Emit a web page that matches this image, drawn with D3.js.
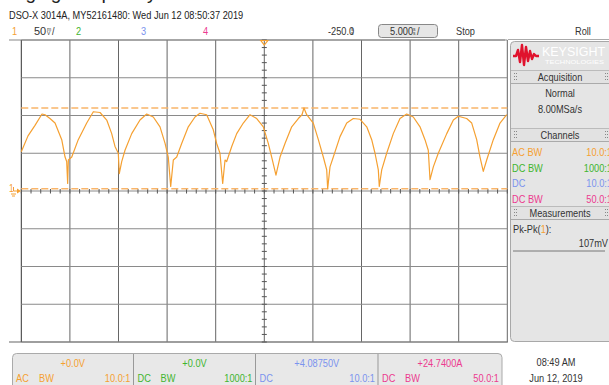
<!DOCTYPE html>
<html>
<head>
<meta charset="utf-8">
<script src="https://cdn.jsdelivr.net/npm/d3@7/dist/d3.min.js"></script>
<style>
  html, body { margin: 0; padding: 0; background: #fff; }
  svg { display: block; }
  text { font-family: "Liberation Sans", Arial, sans-serif; }
</style>
</head>
<body>
<svg id="scope" width="609" height="385"></svg>
<script>
// Channel 1 trace: time (s across the 10-div screen) and voltage (mV)
const traceTime = [0.0,0.69,1.41,2.13,2.44,2.95,3.47,4.16,4.50,4.67,4.77,4.84,5.19,5.86,6.73,7.41,8.10,8.79,9.30,9.64,9.98,10.08,10.33,10.67,11.36,12.21,12.90,13.58,14.27,14.79,15.12,15.37,15.64,15.99,16.50,17.18,17.87,18.38,19.07,19.75,20.10,20.44,20.72,20.96,21.13,21.65,22.16,22.84,23.53,24.22,24.90,25.41,25.76,26.20,26.62,27.13,27.82,28.50,28.88,29.08,29.36,30.04,30.56,31.07,31.42,31.52,31.76,32.10,32.79,33.48,34.16,34.85,35.54,36.05,36.39,36.73,36.83,37.08,37.59,38.27,38.96,39.65,40.33,41.02,41.53,41.87,42.05,42.39,42.90,43.77,44.45,44.96,45.82,46.34,46.85,47.19,47.53,47.88,48.56,49.25,49.94];
const traceMv = [52,73,87,102,101,96,90,68,45,39,10,41,45,68,90,105,104,94,76,59,50,23,39,54,76,94,102,98,85,63,45,6,41,45,63,85,98,103,101,81,63,50,10,41,39,59,76,90,101,96,85,63,45,21,45,63,85,96,101,110,101,90,68,45,28,3,32,45,72,90,96,95,85,68,50,28,6,28,50,76,96,102,98,85,68,54,15,32,50,76,94,99,96,90,68,45,26,41,68,90,101];

// Pk-Pk measurement markers (mV)
const markerMv = [110, 3];
const pkpkLabel = "107mV";

// Screen setup
const timeDomain = [0, 50];        // 10 div x 5 s/div
const voltDomain = [-200, 200];    // 8 div x 50 mV/div
const timeTicks = d3.range(0, 51, 5);
const voltTicks = d3.range(-200, 201, 50);
const timeMinor = d3.range(0, 50.01, 1);
const voltMinor = d3.range(-200, 200.01, 10);

// Channel info
const channelIds = ["1", "2", "3", "4"];
const channelColors = ["#f5a031", "#3fb52f", "#7b93ee", "#ec3a8f"];
const channelOffsets = ["+0.0V", "+0.0V", "+4.08750V", "+24.7400A"];
const channelCoupling = ["AC", "DC", "DC", "DC"];
const channelBw = ["BW", "BW", "", "BW"];
const channelProbe = ["10.0:1", "1000:1", "10.0:1", "50.0:1"];

const svg = d3.select("#scope");
const x = d3.scaleLinear().domain(timeDomain).range([21.3, 507.3]);
const y = d3.scaleLinear().domain(voltDomain).range([342, 40]);

// Condensed instrument-style label
function label(parent, lx, ly, str, opts = {}) {
  return parent.append("text")
    .attr("transform", `translate(${lx},${ly}) scale(${opts.sx ?? 0.84},1)`)
    .attr("text-anchor", opts.anchor || "start")
    .attr("font-size", opts.size || 11)
    .attr("fill", opts.color || "#333")
    .text(str);
}

// Partial title above the header
svg.append("text").attr("x", -3).attr("y", -1)
  .attr("font-size", 19).attr("fill", "#222")
  .text("Ringing Frequency");

// Header text
label(svg, 9, 19, "DSO-X 3014A, MY52161480: Wed Jun 12 08:50:37 2019", { color: "#222" });

const hdrY = 35;
label(svg, 12, hdrY, "1", { color: channelColors[0] });
label(svg, 34, hdrY, "50", { sx: 1 });
label(svg, 47, hdrY - 4.5, "m", { size: 5, sx: 1 });
label(svg, 47, hdrY, "V", { size: 5, sx: 1 });
label(svg, 52, hdrY, "/");
label(svg, 76, hdrY, "2", { color: channelColors[1] });
label(svg, 141, hdrY, "3", { color: channelColors[2] });
label(svg, 203, hdrY, "4", { color: channelColors[3] });

label(svg, 328, hdrY, "-250.0");
label(svg, 351, hdrY - 4.5, "s", { size: 5, sx: 1 });
label(svg, 351, hdrY, "s", { size: 5, sx: 1 });

svg.append("rect").attr("x", 378.5).attr("y", 24.5).attr("width", 59).attr("height", 13).attr("rx", 3)
  .attr("fill", "#e6e6e6").attr("stroke", "#888");
label(svg, 390, hdrY, "5.000");
label(svg, 413, hdrY - 4.5, "s", { size: 5, sx: 1 });
label(svg, 413, hdrY, "s", { size: 5, sx: 1 });
label(svg, 417, hdrY, "/");
label(svg, 456, hdrY, "Stop");
label(svg, 575, hdrY, "Roll");

// Header separators
svg.append("line").attr("x1", 9).attr("x2", 505).attr("y1", 40).attr("y2", 40).attr("stroke", "#888").attr("stroke-width", 1.2);
svg.append("line").attr("x1", 508).attr("x2", 609).attr("y1", 39.5).attr("y2", 39.5).attr("stroke", "#aaa");
svg.append("line").attr("x1", 9).attr("x2", 508).attr("y1", 342).attr("y2", 342).attr("stroke", "#666").attr("stroke-width", 1.2);

// Grid
const grid = svg.append("g");
grid.selectAll("line.v").data(timeTicks).join("line")
  .attr("x1", d => x(d)).attr("x2", d => x(d)).attr("y1", 40).attr("y2", 342)
  .attr("stroke", (d, i) => i === 0 ? "#333" : "#666").attr("stroke-width", 1);
grid.selectAll("line.h").data(voltTicks).join("line")
  .attr("x1", x(0)).attr("x2", x(50)).attr("y1", d => y(d)).attr("y2", d => y(d))
  .attr("stroke", "#8a8a8a").attr("stroke-width", 1.2);

// Center-axis minor ticks
grid.selectAll("line.mx").data(timeMinor).join("line")
  .attr("x1", d => x(d)).attr("x2", d => x(d)).attr("y1", y(0) - 2).attr("y2", y(0) + 2.5)
  .attr("stroke", "#555");
grid.selectAll("line.my").data(voltMinor).join("line")
  .attr("x1", x(25) - 2.5).attr("x2", x(25) + 2.5).attr("y1", d => y(d)).attr("y2", d => y(d))
  .attr("stroke", "#555");

// Measurement markers
svg.selectAll("line.mk").data(markerMv).join("line")
  .attr("x1", x(0)).attr("x2", x(50)).attr("y1", d => y(d)).attr("y2", d => y(d))
  .attr("stroke", "#f9b56a").attr("stroke-width", 1.4).attr("stroke-dasharray", "7,3");

// Trace
const pts = traceTime.map((t, i) => [t, traceMv[i]]);
svg.append("path").datum(pts)
  .attr("d", d3.line().x(d => x(d[0])).y(d => y(d[1])))
  .attr("fill", "none").attr("stroke", channelColors[0]).attr("stroke-width", 1.2)
  .attr("stroke-linejoin", "round");

// Trigger marker at top
svg.append("path").attr("d", `M${x(25) - 3.5},40.5 L${x(25) + 3.5},40.5 L${x(25)},45 Z`)
  .attr("fill", "none").attr("stroke", channelColors[0]).attr("stroke-width", 1.2);

// Ground marker for channel 1
label(svg, 9, y(0) + 1, "1", { size: 10, color: channelColors[0] });
svg.append("path").attr("d", `M13.5,${y(0) - 4} L13.5,${y(0)} L19,${y(0)}`)
  .attr("fill", "none").attr("stroke", channelColors[0]).attr("stroke-width", 1);
svg.append("path").attr("d", `M17,${y(0) - 2.5} L21,${y(0)} L17,${y(0) + 2.5} Z`).attr("fill", channelColors[0]);
svg.append("path").attr("d", `M11,${y(0) + 3} L16,${y(0) + 3} M12,${y(0) + 5} L15,${y(0) + 5}`)
  .attr("stroke", channelColors[0]).attr("stroke-width", 1);

// Right side panel
const panel = svg.append("g");
panel.append("rect").attr("x", 510.5).attr("y", 41.5).attr("width", 105).attr("height", 300).attr("rx", 4)
  .attr("fill", "#e5e5e5").attr("stroke", "#a8a8a8");
// Logo
panel.append("path")
  .attr("d", "M513,56 L516,56 L518,50 L520,62 L522,45 L524,65 L526,47 L528,61 L530,51 L532,59 L534,54 L536,56 L539,56")
  .attr("fill", "none").attr("stroke", "#e0122d").attr("stroke-width", 2.4).attr("stroke-linejoin", "round");
panel.append("text").attr("x", 542).attr("y", 56).attr("font-size", 12).attr("fill", "#fff")
  .attr("textLength", 63).attr("lengthAdjust", "spacingAndGlyphs").text("KEYSIGHT");
panel.append("text").attr("x", 545).attr("y", 64).attr("font-size", 6).attr("fill", "#fff")
  .attr("textLength", 59).attr("lengthAdjust", "spacingAndGlyphs").text("TECHNOLOGIES");

function sectionHeader(str, yTop) {
  panel.append("rect").attr("x", 511).attr("y", yTop).attr("width", 98).attr("height", 13).attr("fill", "#e2e2e2");
  panel.append("line").attr("x1", 511).attr("x2", 609).attr("y1", yTop + 0.5).attr("y2", yTop + 0.5).attr("stroke", "#bbb");
  panel.append("line").attr("x1", 511).attr("x2", 609).attr("y1", yTop + 13.5).attr("y2", yTop + 13.5).attr("stroke", "#aaa");
  label(panel, 560, yTop + 10.5, str, { anchor: "middle" });
  [514, 605].forEach(gx => {
    [3, 6, 9].forEach(gy => {
      panel.append("rect").attr("x", gx).attr("y", yTop + gy).attr("width", 1).attr("height", 1).attr("fill", "#888");
      panel.append("rect").attr("x", gx + 2).attr("y", yTop + gy).attr("width", 1).attr("height", 1).attr("fill", "#888");
    });
  });
}
sectionHeader("Acquisition", 70);
label(panel, 560, 97, "Normal", { anchor: "middle" });
label(panel, 560, 113, "8.00MSa/s", { anchor: "middle" });

sectionHeader("Channels", 128);
channelIds.forEach((id, i) => {
  const ry = 156 + i * 15.5;
  label(panel, 512, ry, channelCoupling[i] + (channelBw[i] ? " " + channelBw[i] : ""), { color: channelColors[i] });
  label(panel, 612, ry, channelProbe[i], { anchor: "end", color: channelColors[i] });
});

sectionHeader("Measurements", 206);
const mt = label(panel, 513, 233, "");
mt.append("tspan").text("Pk-Pk(");
mt.append("tspan").attr("fill", channelColors[0]).text("1");
mt.append("tspan").text("):");
label(panel, 608, 247, pkpkLabel, { anchor: "end" });
panel.append("line").attr("x1", 513).attr("x2", 605).attr("y1", 251).attr("y2", 251).attr("stroke", "#777");

// Bottom channel boxes
const cellEdges = [12, 133.5, 255.5, 378, 502];
svg.append("rect").attr("x", 12.5).attr("y", 353.5).attr("width", 489.5).attr("height", 40).attr("rx", 4)
  .attr("fill", "#e8e8e8").attr("stroke", "#aaa");
cellEdges.slice(1, 4).forEach(cx => {
  svg.append("line").attr("x1", cx).attr("x2", cx).attr("y1", 354).attr("y2", 385).attr("stroke", "#999");
});
channelIds.forEach((id, i) => {
  const l = cellEdges[i], r = cellEdges[i + 1];
  label(svg, (l + r) / 2, 367, channelOffsets[i], { anchor: "middle", color: channelColors[i] });
  label(svg, l + 4, 382, channelCoupling[i], { color: channelColors[i] });
  label(svg, l + 27, 382, channelBw[i], { color: channelColors[i] });
  label(svg, r - 3, 382, channelProbe[i], { anchor: "end", color: channelColors[i] });
});

label(svg, 556, 366, "08:49 AM", { anchor: "middle" });
label(svg, 556, 382, "Jun 12, 2019", { anchor: "middle" });
</script>
</body>
</html>
